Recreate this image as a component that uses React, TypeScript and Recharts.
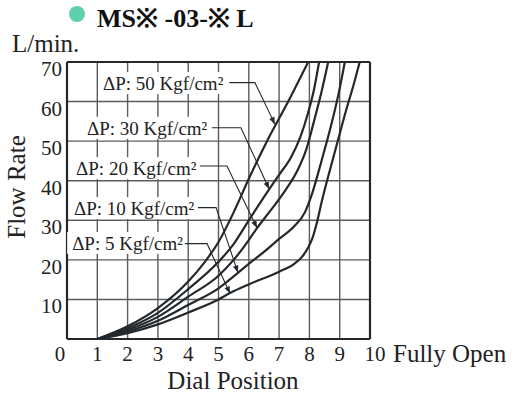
import { LineChart, Line, XAxis, YAxis, CartesianGrid, ReferenceLine } from 'recharts';

const dialTicks = [0, 1, 2, 3, 4, 5, 6, 7, 8, 9, 10];
const flowTicks = [10, 20, 30, 40, 50, 60, 70];

// flow rate (L/min) against dial position, one list per pressure drop
const dp50 = [
  { x: 1, y: 0 }, { x: 2, y: 3.2 }, { x: 3, y: 7.8 }, { x: 4, y: 14.5 }, { x: 4.5, y: 19 },
  { x: 5, y: 24.5 }, { x: 5.5, y: 32 }, { x: 6, y: 40.5 }, { x: 6.6, y: 50 }, { x: 7.3, y: 60 },
  { x: 7.96, y: 70 },
];
const dp30 = [
  { x: 1, y: 0 }, { x: 2, y: 2.7 }, { x: 3, y: 6.6 }, { x: 4, y: 12.6 }, { x: 5, y: 19.5 },
  { x: 5.5, y: 24 }, { x: 6, y: 30 }, { x: 6.67, y: 37.8 }, { x: 7, y: 41.5 }, { x: 7.4, y: 46 },
  { x: 7.7, y: 51 }, { x: 7.95, y: 57 }, { x: 8.15, y: 63 }, { x: 8.32, y: 70 },
];
const dp20 = [
  { x: 1, y: 0 }, { x: 2, y: 2.3 }, { x: 3, y: 5.6 }, { x: 4, y: 10.7 }, { x: 5, y: 16 },
  { x: 5.5, y: 20 }, { x: 6, y: 25 }, { x: 6.27, y: 28 }, { x: 6.7, y: 32.3 }, { x: 7.2, y: 37.5 },
  { x: 7.6, y: 42.5 }, { x: 7.9, y: 48 }, { x: 8.15, y: 55 }, { x: 8.4, y: 62.5 }, { x: 8.62, y: 70 },
];
const dp10 = [
  { x: 1, y: 0 }, { x: 2, y: 1.9 }, { x: 3, y: 4.6 }, { x: 4, y: 8.6 }, { x: 5, y: 12.8 },
  { x: 5.64, y: 16.7 }, { x: 6, y: 19 }, { x: 6.5, y: 22 }, { x: 7, y: 25.3 }, { x: 7.5, y: 28.5 },
  { x: 7.85, y: 32 }, { x: 8.1, y: 37 }, { x: 8.4, y: 45 }, { x: 8.7, y: 53.5 }, { x: 8.95, y: 61.5 },
  { x: 9.17, y: 70 },
];
const dp5 = [
  { x: 1, y: 0 }, { x: 2, y: 1.5 }, { x: 3, y: 3.7 }, { x: 4, y: 6.7 }, { x: 5, y: 10 },
  { x: 5.38, y: 11.6 }, { x: 6, y: 13.8 }, { x: 7, y: 17 }, { x: 7.5, y: 19 }, { x: 7.75, y: 20.7 },
  { x: 7.95, y: 23 }, { x: 8.1, y: 25.5 }, { x: 8.25, y: 29.5 }, { x: 8.4, y: 34.5 }, { x: 8.6, y: 40.5 },
  { x: 8.9, y: 49 }, { x: 9.2, y: 57.5 }, { x: 9.45, y: 64 }, { x: 9.66, y: 70 },
];

const seriesNames = ['ΔP: 50 Kgf/cm²', 'ΔP: 30 Kgf/cm²', 'ΔP: 20 Kgf/cm²', 'ΔP: 10 Kgf/cm²', 'ΔP: 5 Kgf/cm²'];
const seriesData = [dp50, dp30, dp20, dp10, dp5];

// callouts, in chart units: text start, leader elbow and arrow tip
const callouts = [
  { text: seriesNames[0], at: [1.19, 62.9], from: [5.36, 64.8], elbow: [6.2, 64.8], tip: [6.86, 54.3] },
  { text: seriesNames[1], at: [0.66, 51.6], from: [4.78, 53.4], elbow: [5.74, 53.4], tip: [6.67, 37.9] },
  { text: seriesNames[2], at: [0.3, 41.4], from: [4.39, 43.7], elbow: [5.28, 43.7], tip: [6.27, 28.1] },
  { text: seriesNames[3], at: [0.23, 31.3], from: [4.32, 33.2], elbow: [4.92, 33.2], tip: [5.64, 16.8] },
  { text: seriesNames[4], at: [0.17, 22.5], from: [3.89, 24.1], elbow: [4.62, 24.1], tip: [5.38, 11.5] },
];

const W = 515;
const H = 398;
const M = { top: 62, right: 145, bottom: 29, left: 7 };
const Y_AXIS_W = 60;
const X_AXIS_H = 30;
const X0 = M.left + Y_AXIS_W;
const X1 = W - M.right;
const Y0 = H - M.bottom - X_AXIS_H;
const Y1 = M.top;
const px = (v: number) => X0 + (v / 10) * (X1 - X0);
const py = (v: number) => Y0 - (v / 70) * (Y0 - Y1);

const FONT = "'Liberation Serif', 'Times New Roman', serif";
const INK = '#23282c';
const GRID = '#5c5c5c';

const XTick = (props: any) => {
  const { x, payload } = props;
  const v = payload.value;
  const shift = v === 0 ? -7 : v === 10 ? 5 : 0;
  return (
    <text x={x + shift} y={Y0 + 22} textAnchor="middle" fontFamily={FONT} fontSize={21} fill="#222">
      {v}
    </text>
  );
};

const YTick = (props: any) => {
  const { y, payload } = props;
  return (
    <text x={X0 - 5} y={y + 14} textAnchor="end" fontFamily={FONT} fontSize={21} fill="#222">
      {payload.value}
    </text>
  );
};

export default function App() {
  return (
    <div style={{ position: 'relative', width: W, height: H, background: '#fff' }}>
      <style>{'body{margin:0}'}</style>
      <LineChart width={W} height={H} margin={M}>
        <CartesianGrid stroke={GRID} strokeWidth={1.4} />
        <XAxis
          type="number"
          dataKey="x"
          domain={[0, 10]}
          ticks={dialTicks}
          height={X_AXIS_H}
          tickLine={false}
          axisLine={{ stroke: INK, strokeWidth: 2.2 }}
          tick={<XTick />}
          allowDataOverflow
        />
        <YAxis
          type="number"
          dataKey="y"
          domain={[0, 70]}
          ticks={flowTicks}
          width={Y_AXIS_W}
          tickLine={false}
          axisLine={{ stroke: INK, strokeWidth: 2.2 }}
          tick={<YTick />}
          allowDataOverflow
        />
        <ReferenceLine y={70} stroke={INK} strokeWidth={2.2} />
        <ReferenceLine x={10} stroke={INK} strokeWidth={2.2} />
        {seriesData.map((d, i) => (
          <Line
            key={seriesNames[i]}
            data={d}
            dataKey="y"
            type="monotone"
            stroke={INK}
            strokeWidth={2.2}
            dot={false}
            isAnimationActive={false}
          />
        ))}
      </LineChart>
      <svg width={W} height={H} style={{ position: 'absolute', left: 0, top: 0, pointerEvents: 'none' }}>
        <defs>
          <marker id="arr" viewBox="0 0 10 10" refX="10" refY="5" markerWidth="9" markerHeight="7" markerUnits="userSpaceOnUse" orient="auto">
            <path d="M0,1 L10,5 L0,9 z" fill={INK} />
          </marker>
        </defs>
        <circle cx={77} cy={14} r={8} fill="#5fcfae" />
        <text x={97} y={27} fontFamily={FONT} fontWeight="bold" fontSize={26} fill="#111">
          MS※ -03-※ L
        </text>
        <text x={12} y={52} fontFamily={FONT} fontSize={25} fill="#222">L/min.</text>
        <text x={25} y={187} transform="rotate(-90 25 187)" textAnchor="middle" fontFamily={FONT} fontSize={25} fill="#222">
          Flow Rate
        </text>
        <text x={233} y={389} textAnchor="middle" fontFamily={FONT} fontSize={25} fill="#222">Dial Position</text>
        <text x={393} y={362} fontFamily={FONT} fontSize={25} fill="#222">Fully Open</text>
        {callouts.map((c) => {
          const tx = px(c.at[0]);
          const ty = py(c.at[1]);
          const ex = px(c.from[0]);
          return (
            <g key={c.text}>
              <rect x={tx - 5} y={ty - 18} width={ex - tx + 7} height={22} fill="#fff" />
              <text x={tx} y={ty} fontFamily={FONT} fontSize={19} fill="#222">{c.text}</text>
              <polyline
                points={`${ex},${py(c.from[1])} ${px(c.elbow[0])},${py(c.elbow[1])} ${px(c.tip[0])},${py(c.tip[1])}`}
                fill="none"
                stroke={INK}
                strokeWidth={1.1}
                markerEnd="url(#arr)"
              />
            </g>
          );
        })}
      </svg>
    </div>
  );
}
